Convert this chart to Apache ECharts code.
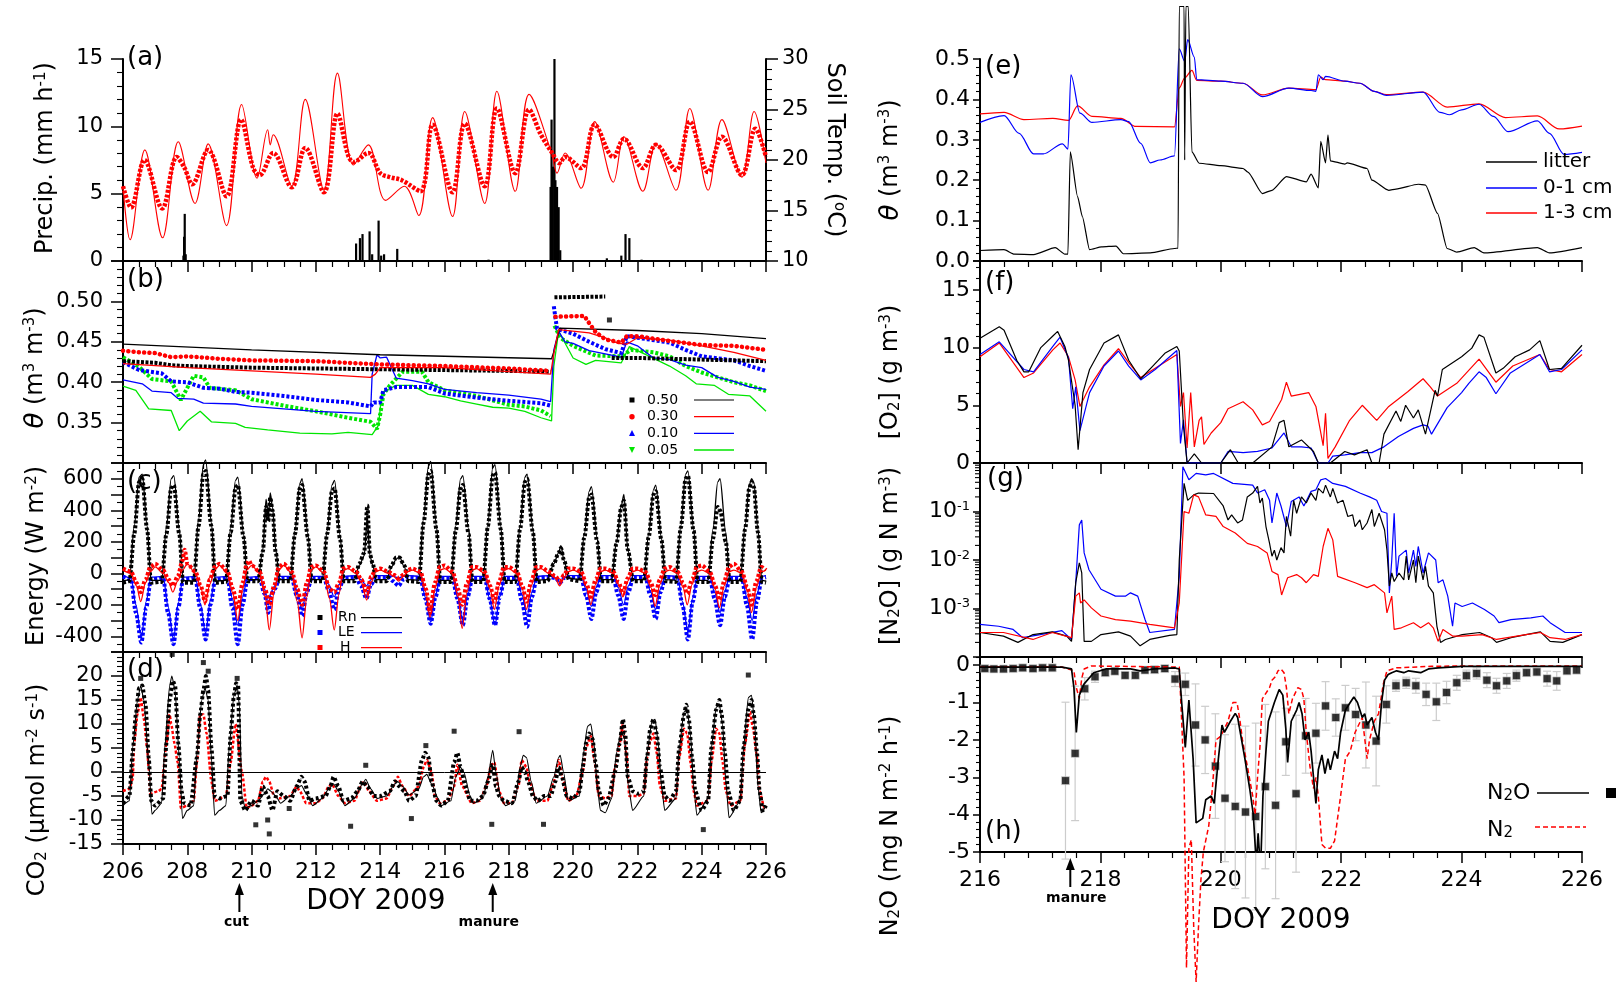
<!DOCTYPE html>
<html><head><meta charset="utf-8">
<script src="https://cdn.jsdelivr.net/npm/echarts@6/dist/echarts.min.js"></script>
<style>html,body{margin:0;padding:0;background:#fff}#c{width:1621px;height:1003px}</style>
</head><body><div id="c"></div>
<script>
// ---------------- DATA ----------------
// (a) precipitation (mm/h) and soil temperatures (C)
const precip = [[207.88,0.4],[207.9,1.8],[207.92,3.5],[207.95,0.5],[213.25,1.3],[213.37,1.7],[213.45,2.0],[213.67,2.2],[213.75,0.5],[213.95,3.0],[214.03,0.4],[214.12,0.5],[214.53,0.9],[217.37,0.1],[219.3,5.5],[219.33,10.5],[219.37,7.0],[219.42,15],[219.45,6.0],[219.5,5.5],[219.55,4.0],[219.6,0.8],[221.05,0.2],[221.5,0.4],[221.63,2.0],[221.75,1.7],[222.13,0.1]];
const tempSurface = [[206.0,17.4],[206.22,12.1],[206.68,21.0],[207.23,12.3],[207.72,21.8],[208.24,15.7],[208.65,21.6],[209.22,13.5],[209.69,25.5],[210.17,18.2],[210.5,23.0],[210.58,21.5],[210.67,22.5],[211.25,17.4],[211.67,26.0],[212.25,17.0],[212.67,28.6],[213.17,19.5],[213.63,21.5],[214.17,16.0],[214.75,17.4],[215.2,14.5],[215.63,24.2],[216.25,14.4],[216.63,24.8],[217.25,15.7],[217.63,26.8],[218.2,16.9],[218.63,26.5],[219.33,20.7],[219.5,18.7],[219.75,20.7],[220.25,17.2],[220.67,23.8],[221.25,17.8],[221.58,22.3],[222.17,16.9],[222.58,21.6],[223.2,17.0],[223.63,25.1],[224.2,17.0],[224.63,24.0],[225.25,18.3],[225.63,24.8],[226.0,19.7]];
const tempDeep = [[206.0,17.4],[206.25,15.3],[206.67,20.0],[207.22,15.2],[207.67,20.3],[207.9,19.3],[208.15,17.6],[208.65,21.0],[209.22,16.4],[209.67,24.0],[210.05,19.2],[210.25,18.5],[210.67,20.7],[211.25,17.3],[211.67,21.2],[212.25,16.8],[212.67,24.6],[213.0,20.5],[213.17,19.8],[213.63,20.7],[214.0,18.7],[214.3,18.3],[214.67,18.0],[215.25,16.9],[215.63,23.5],[216.25,16.8],[216.63,23.6],[217.25,17.4],[217.63,25.1],[218.2,18.7],[218.63,25.0],[219.0,22.5],[219.33,20.8],[219.58,19.7],[219.75,20.3],[220.25,19.2],[220.67,23.5],[221.25,20.3],[221.58,22.1],[222.17,19.2],[222.58,21.5],[223.2,19.0],[223.63,23.8],[224.2,18.8],[224.63,22.3],[225.25,18.5],[225.67,23.1],[226.0,20.3]];

// (b) soil water content at depths 0.50, 0.30, 0.10, 0.05 m (modelled lines / measured markers)
const th50Line = [[206,0.447],[210,0.440],[214,0.434],[219.33,0.429],[219.42,0.44],[219.58,0.467],[222,0.464],[224,0.460],[226,0.454]];
const th50Obs = [[206,0.426],[207,0.424],[207.5,0.421],[208,0.420],[210,0.418],[212,0.417],[214,0.416],[216,0.415],[218,0.414],[219.3,0.413],[219.35,null],[219.42,0.505],[221.0,0.506],[221.05,null],[221.2,0.43],[222,0.43],[224,0.428],[226,0.426]];
const th50Out = [[221.13,0.477]];
const th30Line = [[206,0.423],[208,0.418],[210,0.414],[212,0.41],[213.7,0.406],[213.85,0.41],[214.0,0.418],[216,0.418],[218,0.413],[219.3,0.41],[219.42,0.44],[219.55,0.465],[220.5,0.461],[221.0,0.455],[221.4,0.448],[221.67,0.447],[222.0,0.455],[223,0.452],[224,0.445],[225,0.437],[226,0.427]];
const th30Obs = [[206,0.439],[206.5,0.437],[207,0.436],[207.5,0.431],[208,0.432],[209,0.429],[210,0.427],[212,0.426],[214,0.422],[216,0.42],[218,0.417],[219.3,0.414],[219.35,null],[219.45,0.481],[220.35,0.482],[220.5,0.473],[220.7,0.462],[221.0,0.453],[221.5,0.449],[221.67,0.457],[222,0.457],[223,0.451],[224,0.446],[225,0.445],[226,0.440]];
const th10Line = [[206,0.403],[206.6,0.398],[206.9,0.389],[207.5,0.387],[207.7,0.38],[208.2,0.379],[208.5,0.374],[209.5,0.373],[210,0.37],[212,0.364],[213.7,0.361],[213.75,0.41],[213.9,0.434],[214.0,0.43],[214.2,0.431],[214.5,0.405],[215,0.402],[215.5,0.398],[216,0.391],[217,0.387],[218,0.384],[219,0.379],[219.3,0.376],[219.4,0.44],[219.55,0.463],[219.75,0.45],[220.0,0.448],[220.5,0.439],[221.5,0.431],[221.67,0.45],[222,0.445],[222.5,0.43],[223,0.428],[223.5,0.421],[224,0.418],[224.5,0.406],[225,0.401],[225.5,0.394],[226,0.391]];
const th10Obs = [[206,0.425],[206.5,0.415],[207.2,0.411],[207.5,0.401],[208,0.40],[208.5,0.393],[209,0.392],[209.5,0.388],[210,0.387],[211,0.383],[212,0.378],[213,0.375],[213.7,0.37],[213.8,0.375],[214,0.375],[214.1,0.39],[214.5,0.394],[215.5,0.394],[216,0.386],[217,0.381],[218,0.377],[219,0.374],[219.3,0.371],[219.35,null],[219.4,0.494],[219.5,0.466],[220,0.46],[220.5,0.45],[221,0.441],[221.5,0.436],[221.67,0.457],[222,0.455],[223,0.449],[223.5,0.44],[224,0.432],[225,0.427],[225.5,0.42],[226,0.414]];
const th05Line = [[206,0.395],[206.4,0.39],[206.8,0.367],[207.5,0.365],[207.75,0.34],[208.0,0.352],[208.4,0.364],[208.75,0.351],[209.5,0.349],[209.8,0.344],[210.5,0.341],[211.5,0.337],[212.5,0.336],[213,0.338],[213.75,0.335],[213.95,0.347],[214.05,0.387],[214.5,0.396],[215,0.396],[215.5,0.385],[216,0.382],[216.5,0.377],[217,0.373],[217.5,0.369],[218,0.368],[218.5,0.364],[219,0.356],[219.33,0.352],[219.4,0.42],[219.55,0.463],[220.0,0.43],[220.4,0.422],[220.7,0.427],[221.5,0.424],[221.75,0.444],[223,0.42],[223.5,0.408],[223.83,0.398],[224.4,0.396],[224.83,0.385],[225.5,0.383],[226,0.364]];
const th05Obs = [[206,0.431],[206.5,0.419],[206.9,0.404],[207.5,0.401],[207.8,0.378],[208.2,0.408],[208.5,0.406],[208.7,0.393],[209.5,0.39],[210,0.379],[211,0.371],[212,0.364],[213,0.356],[213.7,0.351],[213.9,0.342],[214.0,0.36],[214.1,0.385],[214.3,0.396],[214.7,0.413],[215.3,0.413],[215.5,0.40],[216,0.39],[217,0.383],[218,0.372],[218.5,0.37],[219,0.365],[219.3,0.358],[219.35,null],[219.42,0.47],[219.6,0.455],[220,0.445],[220.7,0.433],[221.5,0.432],[221.8,0.44],[222.5,0.437],[223,0.432],[223.5,0.42],[224,0.412],[225,0.40],[225.5,0.396],[226,0.389]];

// (c) energy fluxes W m-2 (flat lists: day, value, day, value ...)
const rnLineFlat = [206,-50,206.2,-40,206.35,300,206.5,610,206.6,630,206.75,300,206.87,-45,207.2,-45,207.35,290,207.5,600,207.58,620,207.75,280,207.87,-45,208.2,-50,208.35,340,208.5,690,208.57,720,208.75,320,208.87,-50,209.2,-45,209.35,290,209.5,590,209.57,610,209.75,250,209.87,-40,210.2,-40,210.35,150,210.45,470,210.52,350,210.58,510,210.65,420,210.75,150,210.87,-40,211.2,-40,211.35,270,211.5,570,211.57,600,211.75,250,211.87,-40,212.2,-40,212.35,270,212.5,560,212.58,590,212.75,240,212.87,-40,213.2,-40,213.35,50,213.5,110,213.6,350,213.68,110,213.77,50,213.87,-40,214.2,-40,214.35,40,214.5,90,214.6,105,214.75,40,214.87,-40,215.2,-45,215.35,350,215.5,680,215.57,710,215.75,300,215.87,-45,216.2,-45,216.35,300,216.5,600,216.57,620,216.75,280,216.87,-45,217.2,-45,217.35,320,217.5,670,217.57,690,217.75,300,217.87,-45,218.2,-45,218.35,300,218.5,610,218.57,630,218.75,280,218.87,-45,219.2,-40,219.4,60,219.55,130,219.62,175,219.72,80,219.87,-30,220.2,-40,220.35,250,220.5,520,220.57,550,220.75,220,220.87,-40,221.2,-40,221.35,200,221.5,430,221.58,500,221.7,150,221.87,-40,222.2,-40,222.35,250,222.5,530,222.57,560,222.75,220,222.87,-40,223.2,-45,223.35,300,223.5,630,223.57,650,223.75,280,223.87,-45,224.2,-45,224.35,280,224.5,580,224.57,600,224.75,260,224.87,-45,225.2,-45,225.35,300,225.48,560,225.55,600,225.62,580,225.75,280,225.87,-45,226,-50];
const rnObsFlat = [206,-60,206.2,-50,206.35,250,206.5,580,206.6,600,206.75,280,206.87,-60,207.2,-55,207.35,250,207.5,540,207.58,560,207.75,250,207.87,-60,208.2,-60,208.35,300,208.5,630,208.57,650,208.75,300,208.87,-60,209.2,-55,209.35,260,209.5,540,209.57,560,209.75,230,209.87,-50,210.2,-50,210.35,140,210.45,420,210.52,330,210.58,480,210.65,400,210.75,130,210.87,-50,211.2,-50,211.35,250,211.5,540,211.57,560,211.75,230,211.87,-50,212.2,-50,212.35,250,212.5,520,212.58,540,212.75,220,212.87,-50,213.2,-50,213.35,60,213.5,130,213.6,430,213.68,120,213.77,60,213.87,-50,214.2,-50,214.35,50,214.5,100,214.6,100,214.75,50,214.87,-50,215.2,-55,215.35,320,215.5,630,215.57,650,215.75,280,215.87,-55,216.2,-55,216.35,270,216.5,540,216.57,560,216.75,250,216.87,-55,217.2,-55,217.35,300,217.5,620,217.57,640,217.75,280,217.87,-55,218.2,-55,218.35,280,218.5,580,218.57,600,218.75,260,218.87,-55,219.2,-50,219.4,60,219.55,130,219.62,160,219.72,80,219.87,-40,220.2,-50,220.35,230,220.5,480,220.57,500,220.75,200,220.87,-50,221.2,-50,221.35,190,221.5,420,221.58,460,221.7,150,221.87,-50,222.2,-50,222.35,230,222.5,500,222.57,520,222.75,210,222.87,-50,223.2,-55,223.35,290,223.5,600,223.57,620,223.75,270,223.87,-55,224.2,-55,224.35,220,224.5,420,224.57,400,224.75,200,224.87,-55,225.2,-55,225.35,280,225.48,540,225.55,580,225.62,550,225.75,260,225.87,-55,226,-60];
const leLineFlat = [206,-15,206.25,-30,206.4,-200,206.57,-410,206.72,-180,206.87,-25,207.25,-20,207.4,-210,207.57,-420,207.72,-190,207.87,-25,208.25,-20,208.4,-190,208.57,-380,208.72,-170,208.87,-25,209.25,-20,209.4,-160,209.57,-330,209.72,-150,209.87,-25,210.25,-20,210.4,-100,210.52,-200,210.6,-120,210.72,-80,210.87,-20,211.25,-20,211.4,-110,211.57,-230,211.72,-100,211.87,-20,212.25,-20,212.4,-70,212.57,-150,212.72,-70,212.87,-20,213.25,-15,213.4,-40,213.57,-80,213.72,-40,213.87,-15,214.25,-15,214.4,-20,214.57,-30,214.72,-20,214.87,-15,215.25,-20,215.4,-150,215.57,-310,215.72,-140,215.87,-20,216.25,-20,216.4,-150,216.57,-300,216.72,-140,216.87,-20,217.25,-20,217.4,-160,217.57,-330,217.72,-150,217.87,-20,218.25,-20,218.4,-130,218.57,-270,218.72,-120,218.87,-20,219.25,-15,219.45,-30,219.6,-60,219.72,-30,219.87,-15,220.25,-15,220.4,-100,220.57,-210,220.72,-90,220.87,-15,221.25,-15,221.4,-90,221.57,-200,221.72,-80,221.87,-15,222.25,-15,222.4,-110,222.57,-230,222.72,-100,222.87,-15,223.25,-20,223.4,-180,223.57,-370,223.72,-160,223.87,-20,224.25,-20,224.4,-120,224.57,-250,224.72,-110,224.87,-20,225.25,-20,225.4,-150,225.57,-300,225.72,-130,225.87,-20,226,-15];
const leObsFlat = [206,-20,206.25,-40,206.4,-250,206.57,-440,206.72,-220,206.87,-40,207.25,-30,207.4,-250,207.57,-450,207.72,-220,207.87,-40,208.25,-30,208.4,-220,208.57,-420,208.72,-200,208.87,-40,209.25,-30,209.4,-220,209.57,-450,209.72,-200,209.87,-40,210.25,-30,210.4,-130,210.52,-250,210.6,-150,210.72,-100,210.87,-30,211.25,-30,211.4,-140,211.57,-270,211.72,-120,211.87,-30,212.25,-30,212.4,-110,212.57,-230,212.72,-100,212.87,-30,213.25,-25,213.4,-80,213.57,-160,213.72,-70,213.87,-25,214.25,-25,214.4,-50,214.57,-80,214.72,-40,214.87,-25,215.25,-30,215.4,-160,215.57,-320,215.72,-150,215.87,-30,216.25,-30,216.4,-160,216.57,-330,216.72,-150,216.87,-30,217.25,-30,217.4,-160,217.57,-330,217.72,-150,217.87,-30,218.25,-30,218.4,-170,218.57,-340,218.72,-150,218.87,-30,219.25,-25,219.45,-30,219.6,-60,219.72,-30,219.87,-25,220.25,-25,220.4,-140,220.57,-290,220.72,-120,220.87,-25,221.25,-25,221.4,-140,221.57,-290,221.72,-120,221.87,-25,222.25,-25,222.4,-140,222.57,-290,222.72,-120,222.87,-25,223.25,-30,223.4,-200,223.57,-420,223.72,-180,223.87,-30,224.25,-30,224.4,-160,224.57,-330,224.72,-150,224.87,-30,225.25,-30,225.4,-200,225.57,-420,225.72,-180,225.87,-30,226,-25];
const hLineFlat = [206,20,206.25,0,206.42,-80,206.55,-180,206.7,-60,206.85,10,207.0,40,207.25,0,207.42,-60,207.55,-120,207.7,-50,207.85,20,208.0,60,208.25,0,208.42,-90,208.55,-200,208.7,-70,208.85,20,209.0,50,209.25,0,209.42,-130,209.57,-300,209.72,-100,209.85,20,210.0,50,210.25,0,210.42,-150,210.55,-360,210.7,-120,210.85,20,211.0,50,211.25,0,211.42,-180,211.57,-410,211.72,-150,211.85,20,212.0,40,212.25,0,212.42,-160,212.57,-360,212.72,-130,212.85,20,213.0,30,213.25,0,213.42,-60,213.58,-170,213.72,-60,213.85,10,214.0,20,214.25,0,214.42,-20,214.58,-50,214.72,-20,214.85,10,215.0,20,215.25,0,215.42,-120,215.55,-280,215.7,-100,215.85,20,216.0,30,216.25,0,216.42,-150,216.55,-350,216.7,-120,216.85,20,217.0,30,217.25,0,217.42,-100,217.55,-230,217.7,-80,217.85,20,218.0,30,218.25,0,218.42,-100,218.55,-230,218.7,-80,218.85,20,219.0,30,219.25,0,219.45,-30,219.58,-80,219.72,-30,219.85,10,220.0,20,220.25,0,220.42,-90,220.55,-200,220.7,-70,220.85,10,221.0,20,221.25,0,221.42,-70,221.55,-150,221.7,-50,221.85,10,222.0,20,222.25,0,222.42,-90,222.55,-210,222.7,-70,222.85,10,223.0,20,223.25,0,223.42,-90,223.55,-200,223.7,-70,223.85,10,224.0,20,224.25,0,224.42,-100,224.55,-220,224.7,-80,224.85,10,225.0,20,225.25,0,225.42,-110,225.55,-250,225.7,-90,225.85,10,226,20];
const hObsFlat = [206,30,206.25,10,206.42,-60,206.55,-120,206.7,-40,206.85,40,207.0,60,207.25,20,207.42,-40,207.55,-80,207.7,-20,207.85,80,207.92,150,208.0,60,208.25,10,208.42,-80,208.55,-180,208.7,-40,208.85,40,209.0,60,209.25,10,209.42,-100,209.57,-230,209.72,-60,209.85,60,209.92,80,210.0,50,210.25,10,210.42,-100,210.55,-200,210.7,-80,210.85,40,211.0,60,211.25,10,211.42,-100,211.57,-200,211.72,-60,211.85,40,212.0,50,212.25,10,212.42,-100,212.57,-120,212.72,-60,212.85,30,213.0,40,213.25,10,213.42,-40,213.58,-130,213.72,-20,213.85,20,214.0,30,214.25,10,214.42,-10,214.58,-30,214.72,-10,214.85,20,215.0,30,215.25,10,215.42,-100,215.55,-250,215.7,-60,215.85,40,216.0,50,216.25,10,216.42,-100,216.55,-200,216.7,-60,216.85,40,217.0,40,217.25,10,217.42,-80,217.55,-180,217.7,-50,217.85,40,218.0,40,218.25,10,218.42,-80,218.55,-180,218.7,-50,218.85,40,219.0,40,219.25,10,219.45,-20,219.58,-50,219.72,-10,219.85,30,220.0,30,220.25,10,220.42,-70,220.55,-150,220.7,-40,220.85,30,221.0,30,221.25,10,221.42,-60,221.55,-130,221.7,-30,221.85,30,222.0,30,222.25,10,222.42,-60,222.55,-140,222.7,-40,222.85,30,223.0,40,223.25,10,223.42,-60,223.55,-130,223.7,-40,223.85,40,224.0,50,224.25,10,224.42,-80,224.55,-170,224.7,-50,224.85,40,225.0,60,225.25,10,225.42,-90,225.55,-200,225.7,-50,225.85,40,226,20];

// (d) CO2 flux
const co2LineFlat = [206.0,-7,206.2,-6,206.3,5,206.45,15,206.55,18,206.65,15,206.8,2,206.9,-8.8,207.0,-8,207.2,-6.5,207.3,5,207.45,18,207.52,20,207.62,17,207.75,3,207.85,-9.7,208.0,-8,208.2,-7,208.3,4,208.45,15,208.55,17.5,208.65,15,208.75,3,208.85,-9,209.0,-8,209.2,-7,209.3,5,209.45,16,209.55,18,209.62,14,209.7,-5,209.8,-7.5,210.0,-7,210.2,-6,210.4,-4.5,210.5,-3.5,210.6,-4,210.75,-5,210.9,-6.5,211.2,-5,211.4,-3.5,211.55,-2.8,211.7,-4.5,211.9,-7,212.2,-5.5,212.4,-3.5,212.55,-2.5,212.7,-4,212.9,-7,213.2,-5.5,213.45,-2.5,213.55,-1.5,213.7,-3.5,213.9,-5.5,214.2,-5,214.45,-2.5,214.55,-2,214.7,-3,214.9,-4.8,215.2,-3.5,215.35,-1,215.45,-0.5,215.6,-2.5,215.8,-5.5,215.9,-7,216.2,-6,216.35,-1,216.5,1,216.6,0,216.8,-5,216.9,-6.5,217.2,-5.5,217.35,-1,217.5,4.5,217.6,0,217.75,-5.5,217.9,-7,218.2,-6,218.35,1,218.45,3.5,218.55,3,218.7,-2,218.85,-6.5,219.2,-5,219.4,-1,219.55,3,219.6,3.5,219.7,0,219.85,-6,220.2,-5,220.3,3,220.45,9.5,220.55,10,220.65,6,220.75,-3,220.85,-8,221.0,-8.5,221.2,-5.5,221.35,4,221.5,8.5,221.6,7,221.72,-3,221.85,-8,222.2,-5,222.3,4,222.45,10.5,222.55,11,222.65,6,222.75,-3,222.85,-8,223.2,-5.5,223.3,5,223.45,12.5,223.55,13,223.65,8,223.75,-3,223.85,-9,224.2,-5.5,224.3,5,224.45,13.5,224.55,14,224.65,10,224.75,-2,224.85,-9.5,225.2,-6,225.3,5,225.45,15.5,225.55,16,225.65,10,225.75,-3,225.85,-8.5,226.0,-7];
const co2ObsFlat = [206.0,-6.5,206.2,-5,206.3,4,206.4,12,206.5,17.5,206.6,18,206.7,14,206.8,3,206.88,-6,207.0,-7,207.25,-5.5,207.35,6,207.45,15,207.55,19,207.62,18,207.72,6,207.82,-4,207.9,-6.5,208.1,-7,208.3,3,208.4,12,208.5,17,208.58,20,208.65,17,208.75,5,208.85,-5,209.0,-5.5,209.25,-5,209.35,8,209.45,16,209.52,18.5,209.58,18,209.65,-6,209.8,-8,210.0,-6,210.2,-7,210.35,-3,210.5,-5,210.65,-8,210.8,-4,211.0,-5,211.2,-6,211.4,-3,211.55,-1,211.65,-2,211.8,-6,212.0,-5.5,212.3,-5,212.45,-3,212.55,-1,212.7,-3,212.85,-6,213.1,-5.5,213.3,-4,213.45,-2,213.6,-3,213.8,-5,214.0,-5,214.3,-4,214.45,-2,214.6,-3,214.75,-4,214.9,-6,215.1,-5,215.3,2.5,215.4,4,215.5,3,215.6,-2,215.75,-6,215.9,-7,216.1,-6,216.3,2,216.4,4,216.5,1,216.65,-3,216.8,-6,217.0,-6,217.2,-5,217.35,-2,217.5,1.5,217.6,-3,217.7,-5,217.85,-6,218.1,-6.5,218.3,-2,218.4,1,218.5,0,218.6,-2,218.75,-5,218.9,-6,219.1,-5,219.3,-5,219.45,-2,219.55,1,219.65,-1,219.8,-5,220.0,-5.5,220.2,-4,220.3,1,220.4,6,220.5,8,220.6,7,220.7,2,220.8,-4,220.95,-7,221.1,-5.5,221.3,0,221.45,6,221.55,11,221.62,8,221.7,-1,221.85,-4,222.0,-4.5,222.2,-4,222.3,3,222.4,9,222.5,11,222.6,8,222.7,1,222.85,-5,223.0,-6,223.2,-4,223.3,5,223.45,12,223.52,14,223.6,11,223.7,3,223.8,-4,224.0,-8,224.2,-6,224.3,5,224.45,13,224.55,15,224.62,12,224.72,4,224.82,-4,225.0,-8,225.2,-6,225.3,5,225.45,13,225.55,15,225.62,12,225.72,4,225.8,-4,225.9,-8,226.0,-7];
const co2Outliers = [[207.53,24.5],[208.5,22.8],[208.65,21],[210.13,-11],[210.55,-12.9],[210.5,-10],[211.17,-7.6],[213.08,-11.3],[213.55,1.4],[214.97,-9.7],[215.42,5.5],[216.3,8.5],[217.47,-10.9],[218.32,8.4],[219.08,-10.9],[224.05,-12],[225.45,20.2],[209.55,19.5],[206.55,19.5]];
const co2RedFlat = [206.0,-4,206.2,-3.5,206.3,-1.5,206.35,6,206.45,12,206.55,15.5,206.65,11,206.75,5,206.8,0.5,206.85,-4.5,207.1,-4,207.2,-3.5,207.35,6,207.45,12,207.5,10,207.6,6,207.7,2,207.8,-7.5,208.0,-7,208.2,-6,208.3,2,208.4,12,208.5,12,208.6,8,208.75,-2,208.85,-6,209.2,-5,209.35,2,209.5,10,209.7,0,209.85,-7.5,210.0,-7,210.2,-6,210.35,-2,210.45,-1,210.55,-2,210.7,-5,210.85,-5.5,211.2,-5,211.4,-3,211.5,-4,211.7,-6.5,212.0,-6.5,212.2,-5.5,212.4,-3,212.5,-2.5,212.7,-5,212.9,-6.5,213.2,-6,213.4,-3,213.5,-2,213.65,-4,213.9,-6,214.2,-5.5,214.4,-3,214.55,-1,214.7,-3,214.9,-5,215.2,-3,215.35,1,215.45,2.5,215.6,0,215.7,-5,215.85,-6.5,216.1,-6,216.3,-3,216.4,1.5,216.55,-3,216.85,-6.5,217.1,-6,217.3,-3,217.45,1.5,217.55,2,217.7,-4,217.85,-6.5,218.1,-6.5,218.3,-3,218.4,2.5,218.55,1,218.65,-2,218.85,-6,219.2,-6,219.4,-2,219.55,2.5,219.7,-2,219.85,-6,220.1,-5,220.3,0,220.4,5,220.55,7.5,220.65,3,220.8,-5,221.0,-5.5,221.2,-5,221.3,1,221.45,6,221.55,10,221.65,4,221.75,-5,222.0,-5,222.2,-4.5,222.3,3,222.4,6.5,222.5,8,222.6,4,222.7,-3,222.85,-6,223.2,-5.5,223.3,3,223.45,9,223.55,8,223.65,2,223.75,-4,223.85,-7,224.2,-6,224.3,2,224.45,9,224.55,8,224.65,2,224.75,-4,224.9,-7,225.2,-6,225.35,6,225.5,12.5,225.6,9,225.7,4,225.8,-4,225.95,-7.5,226.0,-7];

// (e) water content litter / 0-1 cm / 1-3 cm
const eLitter = [[216.0,0.026],[216.4,0.028],[216.57,0.017],[216.89,0.016],[217.25,0.033],[217.41,0.017],[217.46,0.017],[217.5,0.27],[217.62,0.16],[217.7,0.11],[217.82,0.028],[218.02,0.035],[218.26,0.037],[218.38,0.018],[218.83,0.02],[219.23,0.031],[219.29,0.032],[219.31,0.63],[219.39,0.63],[219.4,0.25],[219.42,0.63],[219.46,0.63],[219.52,0.27],[219.64,0.242],[220.0,0.236],[220.37,0.229],[220.45,0.22],[220.69,0.167],[220.85,0.175],[221.09,0.209],[221.42,0.196],[221.5,0.215],[221.62,0.181],[221.66,0.296],[221.74,0.243],[221.78,0.312],[221.82,0.248],[222.06,0.24],[222.1,0.243],[222.43,0.229],[222.51,0.2],[222.79,0.175],[222.91,0.178],[223.28,0.19],[223.4,0.188],[223.6,0.118],[223.76,0.031],[223.92,0.022],[224.21,0.033],[224.37,0.02],[225.26,0.033],[225.46,0.02],[226.0,0.033]];
const e01 = [[216.0,0.343],[216.4,0.36],[216.65,0.316],[216.89,0.265],[217.05,0.265],[217.37,0.29],[217.46,0.277],[217.51,0.461],[217.66,0.366],[217.86,0.343],[218.34,0.35],[218.47,0.345],[218.67,0.291],[218.83,0.243],[218.99,0.25],[219.23,0.26],[219.31,0.525],[219.4,0.494],[219.45,0.548],[219.56,0.505],[219.6,0.449],[220.0,0.445],[220.37,0.44],[220.69,0.407],[221.13,0.428],[221.5,0.422],[221.58,0.42],[221.62,0.461],[221.7,0.449],[221.74,0.457],[222.06,0.445],[222.31,0.44],[222.55,0.42],[222.75,0.41],[223.36,0.418],[223.64,0.368],[223.8,0.362],[224.0,0.374],[224.29,0.388],[224.53,0.358],[224.77,0.32],[225.26,0.347],[225.46,0.316],[225.7,0.264],[226.0,0.269]];
const e13 = [[216.0,0.364],[216.4,0.368],[216.73,0.35],[217.21,0.353],[217.47,0.348],[217.62,0.384],[217.86,0.358],[218.34,0.353],[218.59,0.333],[219.23,0.332],[219.31,0.428],[219.4,0.453],[219.52,0.472],[219.6,0.447],[220.0,0.445],[220.37,0.44],[220.69,0.411],[221.13,0.428],[221.58,0.424],[221.66,0.455],[221.74,0.449],[222.06,0.445],[222.31,0.44],[222.55,0.42],[222.75,0.412],[223.36,0.418],[223.76,0.381],[224.29,0.389],[224.73,0.355],[225.26,0.359],[225.62,0.327],[226.0,0.334]];

// (f) O2 concentration
const fLitter = [[216.0,10.8],[216.32,11.8],[216.4,11.5],[216.61,8.9],[216.73,7.9],[216.81,7.9],[217.01,10.0],[217.21,11.0],[217.29,11.4],[217.41,10.1],[217.47,8.9],[217.58,5.0],[217.63,1.15],[217.71,6.1],[217.82,8.1],[218.06,10.4],[218.3,11.1],[218.47,8.9],[218.67,7.3],[218.87,8.4],[219.07,9.5],[219.27,10.1],[219.31,9.7],[219.38,3.2],[219.44,0],[219.56,0.8],[219.68,0],[220.0,0],[220.16,1.15],[220.29,0],[220.53,0],[220.85,1.4],[220.97,3.5],[221.05,3.7],[221.13,1.4],[221.34,2.0],[221.54,1.0],[221.62,0],[221.82,0],[222.06,1.0],[222.22,0.7],[222.43,1.15],[222.51,0],[222.63,0],[222.71,2.5],[222.91,4.5],[222.99,3.6],[223.07,5.0],[223.2,3.9],[223.28,4.6],[223.4,2.5],[223.56,6.3],[223.6,5.8],[223.68,8.1],[224.0,9.2],[224.17,9.95],[224.29,11.1],[224.37,10.9],[224.57,7.8],[224.69,8.2],[224.89,9.2],[225.13,9.8],[225.3,10.6],[225.46,8.1],[225.66,8.2],[226.0,10.2]];
const f01 = [[216.0,9.4],[216.32,10.5],[216.73,8.1],[216.89,7.9],[217.21,10.1],[217.33,10.9],[217.47,9.1],[217.54,4.7],[217.59,6.6],[217.66,2.8],[217.82,6.1],[218.06,8.4],[218.3,9.7],[218.47,8.4],[218.67,7.2],[218.91,8.1],[219.27,9.75],[219.33,1.7],[219.38,3.75],[219.44,0],[220.0,0],[220.12,1.0],[220.37,0.9],[220.61,1.0],[220.85,1.3],[221.05,2.6],[221.17,1.4],[221.34,1.4],[221.5,1.3],[221.62,0],[221.78,0],[221.86,0.6],[222.06,0.7],[222.31,0.9],[222.51,0.9],[222.71,1.4],[222.95,2.3],[223.2,3.0],[223.36,3.3],[223.44,3.2],[223.5,2.5],[223.76,4.8],[224.0,6.1],[224.12,6.9],[224.29,7.9],[224.41,7.4],[224.57,6.0],[224.81,7.8],[225.3,9.4],[225.46,7.9],[225.66,8.1],[226.0,9.8]];
const f13 = [[216.0,9.2],[216.32,10.4],[216.73,7.4],[216.89,7.8],[217.21,9.8],[217.33,10.4],[217.47,9.2],[217.58,7.2],[217.66,4.9],[217.82,6.6],[218.06,8.5],[218.3,9.9],[218.47,8.7],[218.67,7.4],[218.91,8.2],[219.27,9.4],[219.33,4.9],[219.38,6.1],[219.44,1.3],[219.5,6.1],[219.56,1.4],[219.64,3.7],[219.68,4.0],[219.72,1.6],[219.84,2.6],[220.0,3.5],[220.12,4.7],[220.37,5.3],[220.53,4.6],[220.69,3.3],[220.81,3.6],[221.01,5.5],[221.09,7.0],[221.17,5.8],[221.46,6.1],[221.58,4.9],[221.7,1.5],[221.74,4.3],[221.78,0.4],[221.9,1.4],[222.14,3.7],[222.35,5.0],[222.59,3.7],[222.79,4.9],[223.11,6.2],[223.36,7.3],[223.48,6.6],[223.6,5.8],[223.92,6.9],[224.29,9.0],[224.57,7.0],[224.85,8.4],[225.3,9.4],[225.46,8.1],[225.66,7.9],[226.0,9.4]];

// (g) N2O concentration (log scale)
const gLitter = [[216.0,3.2e-4],[216.39,2.7e-4],[216.63,2.0e-4],[216.88,2.9e-4],[217.2,3.3e-4],[217.44,2.7e-4],[217.52,2.1e-4],[217.59,3.4e-3],[217.65,8.7e-3],[217.69,5.4e-3],[217.73,2.1e-4],[217.85,2.1e-4],[218.01,2.9e-4],[218.3,3.3e-4],[218.5,2.7e-4],[218.66,1.7e-4],[218.82,2.3e-4],[219.15,2.8e-4],[219.27,2.9e-4],[219.31,1.0e-2],[219.39,0.38],[219.45,0.17],[219.55,0.22],[219.63,0.24],[219.88,0.235],[220.04,0.13],[220.12,0.067],[220.18,0.085],[220.28,0.058],[220.36,0.067],[220.44,0.2],[220.53,0.24],[220.61,0.33],[220.65,0.15],[220.69,0.19],[220.75,0.049],[220.81,0.022],[220.85,0.012],[220.89,0.016],[220.93,0.010],[221.0,0.018],[221.05,0.014],[221.09,0.079],[221.16,0.031],[221.21,0.17],[221.26,0.092],[221.34,0.2],[221.42,0.15],[221.5,0.24],[221.58,0.17],[221.62,0.30],[221.7,0.24],[221.74,0.35],[221.82,0.2],[221.86,0.30],[221.94,0.15],[222.03,0.17],[222.11,0.079],[222.19,0.085],[222.23,0.049],[222.31,0.067],[222.35,0.042],[222.43,0.058],[222.51,0.11],[222.55,0.049],[222.63,0.092],[222.72,0.042],[222.76,0.016],[222.8,0.0029],[222.84,0.0054],[222.88,0.0036],[222.96,0.0054],[223.04,0.0039],[223.08,0.012],[223.12,0.0039],[223.2,0.010],[223.24,0.0034],[223.28,0.012],[223.36,0.0039],[223.4,0.0074],[223.45,0.0029],[223.53,0.0021],[223.59,0.00043],[223.65,0.0002],[223.73,0.00023],[224.01,0.00029],[224.3,0.00032],[224.5,0.00025],[224.58,0.0002],[224.82,0.00025],[225.07,0.00029],[225.31,0.00033],[225.47,0.00021],[225.68,0.0002],[226.0,0.00029]];
const g01 = [[216.0,4.7e-4],[216.31,4.3e-4],[216.55,3.7e-4],[216.71,2.5e-4],[217.0,2.9e-4],[217.36,3.5e-4],[217.52,2.3e-4],[217.59,3.4e-3],[217.65,0.053],[217.69,0.067],[217.73,0.014],[217.81,0.0063],[218.01,0.0025],[218.25,0.0018],[218.42,0.0018],[218.5,0.0021],[218.62,0.0018],[218.74,6e-4],[218.82,3.2e-4],[219.23,3.7e-4],[219.31,0.0046],[219.37,0.84],[219.47,0.45],[219.59,0.61],[219.75,0.57],[219.88,0.61],[220.2,0.38],[220.53,0.35],[220.61,0.24],[220.73,0.28],[220.81,0.17],[220.85,0.058],[220.93,0.24],[221.0,0.13],[221.09,0.049],[221.17,0.16],[221.3,0.2],[221.38,0.13],[221.5,0.26],[221.58,0.28],[221.66,0.45],[221.74,0.48],[221.86,0.38],[222.07,0.33],[222.31,0.24],[222.47,0.2],[222.59,0.17],[222.67,0.1],[222.76,0.092],[222.8,0.0021],[222.84,0.01],[222.88,0.092],[222.92,0.0046],[222.96,0.012],[223.08,0.016],[223.12,0.0054],[223.2,0.016],[223.24,0.0074],[223.28,0.019],[223.36,0.0054],[223.45,0.014],[223.57,0.010],[223.61,0.0034],[223.69,0.0039],[223.77,0.0018],[223.85,0.00043],[223.89,0.0013],[224.01,0.0011],[224.18,0.0013],[224.38,0.00095],[224.54,0.0007],[224.62,0.00051],[224.82,0.00059],[225.15,0.00064],[225.35,0.0007],[225.47,0.00051],[225.72,0.00032],[226.0,0.00032]];
const g13 = [[216.0,3.2e-4],[216.39,3.2e-4],[216.88,2.3e-4],[217.2,3.2e-4],[217.52,2.5e-4],[217.59,0.0018],[217.65,0.0021],[217.67,0.0013],[217.73,0.0015],[217.85,0.00103],[218.01,0.0007],[218.25,0.00059],[218.5,0.00055],[218.82,0.00047],[219.23,0.0004],[219.31,0.0013],[219.39,0.1],[219.47,0.092],[219.55,0.22],[219.63,0.2],[219.75,0.085],[219.92,0.079],[220.04,0.049],[220.24,0.036],[220.44,0.022],[220.61,0.019],[220.77,0.014],[220.85,0.0058],[220.95,0.005],[221.01,0.0019],[221.11,0.0043],[221.26,0.005],[221.34,0.0043],[221.42,0.0034],[221.54,0.005],[221.62,0.0046],[221.7,0.019],[221.78,0.045],[221.86,0.026],[221.94,0.0046],[222.23,0.0034],[222.43,0.0027],[222.55,0.0031],[222.72,0.0021],[222.76,0.00081],[222.84,0.0018],[222.88,0.00037],[223.0,0.0004],[223.2,0.00051],[223.32,0.0004],[223.45,0.00051],[223.53,0.0004],[223.61,0.00021],[223.69,0.00037],[223.85,0.00027],[224.01,0.00027],[224.34,0.00029],[224.58,0.00023],[225.07,0.00029],[225.31,0.00032],[225.47,0.00025],[225.72,0.00023],[226.0,0.00029]];

// (h) N2O and N2 fluxes (model lines) and measured N2O (squares, +/- error)
const hN2O = [[216.0,-0.05],[217.36,-0.05],[217.52,-0.1],[217.56,-0.6],[217.6,-1.8],[217.65,-0.8],[217.73,-0.5],[217.89,-0.2],[218.09,-0.1],[218.5,-0.1],[218.66,-0.15],[218.9,-0.1],[219.23,-0.07],[219.31,-0.1],[219.35,-1.0],[219.41,-2.2],[219.47,-0.93],[219.54,-2.5],[219.59,-4.22],[219.7,-4.1],[219.75,-3.6],[219.84,-3.5],[219.89,-3.7],[219.96,-2.5],[220.02,-1.6],[220.06,-1.8],[220.16,-1.5],[220.24,-1.29],[220.28,-1.4],[220.4,-2.5],[220.48,-3.3],[220.54,-4.0],[220.59,-5.34],[220.62,-4.5],[220.66,-5.5],[220.7,-3.5],[220.75,-2.3],[220.79,-1.5],[220.89,-1.0],[220.97,-0.65],[221.03,-0.8],[221.08,-1.7],[221.11,-2.6],[221.17,-1.5],[221.26,-1.2],[221.3,-1.0],[221.35,-1.3],[221.4,-2.0],[221.46,-1.8],[221.5,-2.3],[221.54,-3.0],[221.58,-3.7],[221.62,-2.8],[221.68,-2.4],[221.73,-2.9],[221.78,-2.5],[221.82,-2.8],[221.89,-2.3],[221.94,-2.5],[221.99,-1.8],[222.07,-1.2],[222.15,-1.0],[222.21,-0.85],[222.27,-1.0],[222.35,-1.4],[222.39,-1.3],[222.43,-1.6],[222.51,-1.4],[222.57,-1.8],[222.62,-2.0],[222.67,-1.0],[222.72,-0.4],[222.78,-0.25],[222.84,-0.2],[222.92,-0.15],[223.04,-0.2],[223.12,-0.15],[223.32,-0.2],[223.45,-0.1],[223.61,-0.07],[224.01,-0.03],[226.0,-0.03]];
const hN2 = [[216.0,-0.05],[217.36,-0.05],[217.56,-0.15],[217.6,-0.6],[217.65,-0.89],[217.69,-0.35],[217.73,-0.1],[217.85,-0.02],[219.31,-0.05],[219.35,-1.5],[219.39,-3.0],[219.43,-8.1],[219.47,-4.89],[219.51,-4.67],[219.55,-7.0],[219.59,-8.48],[219.63,-6.98],[219.67,-5.74],[219.71,-5.0],[219.8,-4.3],[219.86,-3.3],[219.92,-2.0],[220.0,-1.9],[220.12,-1.5],[220.2,-1.0],[220.27,-1.0],[220.32,-1.5],[220.36,-2.0],[220.44,-2.7],[220.53,-3.5],[220.57,-4.0],[220.61,-3.0],[220.65,-2.2],[220.69,-0.9],[220.81,-0.6],[220.85,-0.4],[220.91,-0.3],[220.95,-0.15],[221.0,-0.1],[221.05,-0.2],[221.09,-0.6],[221.13,-1.3],[221.19,-0.9],[221.28,-0.6],[221.34,-0.65],[221.38,-0.9],[221.42,-1.8],[221.48,-2.7],[221.54,-3.3],[221.58,-3.0],[221.62,-3.5],[221.68,-4.8],[221.74,-4.9],[221.82,-4.9],[221.89,-4.7],[221.99,-3.5],[222.07,-2.5],[222.15,-2.3],[222.23,-1.8],[222.35,-1.4],[222.43,-2.5],[222.47,-2.0],[222.55,-1.5],[222.62,-1.3],[222.7,-0.5],[222.76,-0.15],[222.92,-0.07],[223.5,-0.03],[224.0,-0.02],[226.0,-0.02]];
const hObsDay = [216.08,216.23,216.39,216.55,216.71,216.88,217.04,217.2,217.42,217.58,217.74,217.91,218.08,218.24,218.41,218.58,218.74,218.9,219.07,219.24,219.41,219.58,219.74,219.91,220.07,220.24,220.41,220.58,220.74,220.91,221.08,221.25,221.41,221.58,221.74,221.91,222.07,222.24,222.41,222.58,222.75,222.91,223.08,223.24,223.41,223.58,223.75,223.92,224.08,224.25,224.42,224.58,224.75,224.91,225.08,225.25,225.42,225.58,225.75,225.91];
const hObsVal = [-0.09,-0.1,-0.1,-0.09,-0.07,-0.09,-0.07,-0.07,-3.09,-2.36,-0.63,-0.31,-0.2,-0.16,-0.27,-0.27,-0.13,-0.12,-0.09,-0.37,-0.51,-1.6,-2.0,-2.7,-3.56,-3.78,-3.93,-4.05,-3.25,-3.75,-2.05,-3.44,-1.89,-1.82,-1.09,-1.4,-1.14,-1.32,-1.6,-2.03,-1.05,-0.55,-0.47,-0.55,-0.78,-0.98,-0.73,-0.47,-0.28,-0.22,-0.4,-0.55,-0.42,-0.28,-0.2,-0.18,-0.36,-0.42,-0.15,-0.13];
const hObsErr = [0.05,0.05,0.05,0.05,0.05,0.05,0.05,0.05,2.1,1.8,0.3,0.15,0.08,0.08,0.08,0.08,0.08,0.08,0.08,0.2,0.3,1.1,0.9,1.4,1.7,2.2,2.3,2.5,2.2,2.5,0.9,2.1,1.0,0.8,0.65,0.5,0.6,0.7,1.15,1.2,0.5,0.15,0.15,0.2,0.3,0.5,0.3,0.2,0.15,0.15,0.2,0.2,0.2,0.15,0.1,0.1,0.2,0.25,0.1,0.1];

// tick label sets
const xTicksLeft = [206,208,210,212,214,216,218,220,222,224,226];
const xTicksRight = [216,218,220,222,224,226];
const logDecades = [-4,-3,-2,-1];

// ---------------- CHART ----------------
const FONT = 'DejaVu Sans, Liberation Sans, Arial, sans-serif';
const RED='#ff0000', BLUE='#0000ff', GREEN='#00e600', BLK='#000000';
const pairs = a => { const r=[]; for(let i=0;i<a.length;i+=2) r.push([a[i],a[i+1]]); return r; };

const grids = [
  {left:123, top:59,  width:643, height:202},
  {left:123, top:261, width:643, height:202},
  {left:123, top:463, width:643, height:189},
  {left:123, top:652, width:643, height:192},
  {left:980, top:59,  width:602, height:202},
  {left:980, top:261, width:602, height:202},
  {left:980, top:463, width:602, height:194},
  {left:980, top:657, width:602, height:195}
];

function xAx(gi, left, showLabel){
  const ticks = left ? xTicksLeft : xTicksRight;
  return {type:'value', gridIndex:gi, min:ticks[0], max:ticks[ticks.length-1], interval:2, position:'bottom',
    axisLine:{show:true,onZero:false,lineStyle:{color:BLK,width:2}},
    axisTick:{show:true,inside:false,length:11,lineStyle:{color:BLK,width:1.5}},
    minorTick:{show:true,splitNumber:left?4:5,length:6,lineStyle:{color:BLK,width:1.2}},
    axisLabel:{show:showLabel,fontSize:22,color:BLK,fontFamily:FONT,margin:17},
    splitLine:{show:false}, minorSplitLine:{show:false}};
}
function yAx(gi, o){
  const right = o.position==='right';
  const left = gi<4;
  return {type:o.type||'value', gridIndex:gi, position:o.position||'left', min:o.min, max:o.max, interval:o.interval, logBase:o.logBase,
    axisLine:{show:true,onZero:false,lineStyle:{color:BLK,width:2}},
    axisTick:{show:true,inside:false,length:left?12:7,lineStyle:{color:BLK,width:1.5}},
    minorTick:{show:o.type!=='log',splitNumber:o.minor||5,length:left?6:4,lineStyle:{color:BLK,width:1.1}},
    axisLabel:{fontSize:left?21:22,color:BLK,fontFamily:FONT,margin:left?(right?16:20):10,formatter:o.fmt,rich:o.rich},
    splitLine:{show:false}, minorSplitLine:{show:false}};
}

const xAxes = [xAx(0,true,false),xAx(1,true,false),xAx(2,true,false),xAx(3,true,true),
               xAx(4,false,false),xAx(5,false,false),xAx(6,false,false),xAx(7,false,true)];
const SUPR = {sup:{fontSize:13,verticalAlign:'top',fontFamily:FONT,color:BLK,padding:[0,0,6,0]}, b:{fontSize:22,fontFamily:FONT,color:BLK}};
const yAxes = [
  yAx(0,{min:0,max:15,interval:5,minor:5,fmt:v=>String(v)}),
  yAx(0,{position:'right',min:10,max:30,interval:5,minor:5,fmt:v=>String(v)}),
  yAx(1,{min:0.30,max:0.55,interval:0.05,minor:5,fmt:v=>(v<0.34||v>0.51)?'':v.toFixed(2)}),
  yAx(2,{min:-500,max:700,interval:100,minor:2,fmt:v=>(Math.round(v)%200===0&&v>=-400&&v<=600)?String(Math.round(v)):''}),
  yAx(3,{min:-15,max:25,interval:5,minor:5,fmt:v=>v>22?'':String(v)}),
  yAx(4,{min:0,max:0.5,interval:0.1,minor:5,fmt:v=>v.toFixed(1)}),
  yAx(5,{min:0,max:17.5,interval:5,minor:5,fmt:v=>v>16?'':String(v)}),
  yAx(6,{type:'log',logBase:10,min:1e-4,max:1,fmt:v=>{const e=Math.round(Math.log10(v));return (e<=-1&&e>=-3)?'{b|10}{sup|'+e+'}':'';},rich:SUPR}),
  yAx(7,{min:-5,max:0.22,interval:1,minor:5,fmt:v=>String(Math.round(v))})
];

function L(xi, yi, data, color, w, extra){
  return Object.assign({type:'line', xAxisIndex:xi, yAxisIndex:yi, data, showSymbol:false, symbol:'none',
    lineStyle:{color, width:w}, itemStyle:{color}, animation:false, silent:true, connectNulls:false}, extra||{});
}
function D(xi, yi, data, color, w, dash, extra){
  return L(xi, yi, data, color, w, Object.assign({lineStyle:{color, width:w, type:dash, cap:'butt'}}, extra||{}));
}
// minor tick positions for the log axis of panel (g): 2..9 x 10^e
const logMinor = [];
logDecades.forEach(e=>{ for(let m=2;m<=9;m++) logMinor.push([216, m*Math.pow(10,e)]); });

const series = [
  // (a)
  L(0,1,tempSurface,RED,1.1,{smooth:0.35}),
  D(0,1,tempDeep,RED,4.5,[3,1.6],{smooth:0.35}),
  {type:'bar', xAxisIndex:0, yAxisIndex:0, data:precip, barWidth:2.2, itemStyle:{color:BLK}, animation:false, silent:true},
  // (b)
  D(1,2,th05Obs,GREEN,4,[3,2]),
  L(1,2,th05Line,GREEN,1.3),
  D(1,2,th10Obs,BLUE,4,[3,2]),
  L(1,2,th10Line,BLUE,1.3),
  D(1,2,th50Obs,BLK,4,[3,1.5]),
  {type:'scatter', xAxisIndex:1, yAxisIndex:2, data:th50Out, symbol:'rect', symbolSize:5, itemStyle:{color:BLK}, animation:false, silent:true},
  L(1,2,th50Line,BLK,1.3),
  L(1,2,th30Obs,RED,4.5,{lineStyle:{color:RED,width:4.5,type:[0.1,5.2],cap:'round'}}),
  L(1,2,th30Line,RED,1.3),
  // (c)
  D(2,3,pairs(leObsFlat),BLUE,4,[3,2],{smooth:0.3,smoothMonotone:'x'}),
  L(2,3,pairs(leLineFlat),BLUE,1.3,{smooth:0.3,smoothMonotone:'x'}),
  D(2,3,pairs(rnObsFlat),BLK,4,[3,2],{smooth:0.3,smoothMonotone:'x',clip:false}),
  L(2,3,pairs(rnLineFlat),BLK,1.3,{smooth:0.3,smoothMonotone:'x',clip:false}),
  D(2,3,pairs(hObsFlat),RED,4,[3,2],{smooth:0.3,smoothMonotone:'x'}),
  L(2,3,pairs(hLineFlat),RED,1.3,{smooth:0.3,smoothMonotone:'x'}),
  // (d)
  D(3,4,pairs(co2RedFlat),RED,2.5,[3,2],{smooth:0.2,smoothMonotone:'x'}),
  D(3,4,pairs(co2ObsFlat),BLK,4,[3,2.5],{smooth:0.2,smoothMonotone:'x',clip:false}),
  {type:'scatter', xAxisIndex:3, yAxisIndex:4, data:co2Outliers, symbol:'rect', symbolSize:5, itemStyle:{color:BLK}, animation:false, silent:true, clip:false},
  L(3,4,pairs(co2LineFlat),BLK,1.1,{smooth:0.2,smoothMonotone:'x',
    markLine:{silent:true,symbol:'none',label:{show:false},animation:false,lineStyle:{color:BLK,width:1,type:'solid'},data:[{yAxis:0}]}}),
  // (e)
  L(4,5,e13,RED,1.2,{clip:false,smooth:0.3,smoothMonotone:'x'}),
  L(4,5,e01,BLUE,1.2,{clip:false,smooth:0.3,smoothMonotone:'x'}),
  L(4,5,eLitter,BLK,1.2,{clip:false,smooth:0.2,smoothMonotone:'x'}),
  // (f)
  L(5,6,f13,RED,1.2),
  L(5,6,f01,BLUE,1.2),
  L(5,6,fLitter,BLK,1.2),
  // (g)
  {type:'custom', xAxisIndex:6, yAxisIndex:7, clip:false, animation:false, silent:true, data:logMinor, encode:{x:0,y:1},
    renderItem:(p,api)=>{ const c=api.coord([api.value(0),api.value(1)]);
      return {type:'line',shape:{x1:c[0]-5,y1:c[1],x2:c[0],y2:c[1]},style:{stroke:BLK,lineWidth:1.1}}; }},
  L(6,7,g01,BLUE,1.2,{clip:false}),
  L(6,7,gLitter,BLK,1.2),
  L(6,7,g13,RED,1.2),
  // (h)
  {type:'custom', xAxisIndex:7, yAxisIndex:8, clip:false, animation:false, silent:true,
    data: hObsDay.map((d,i)=>[d, hObsVal[i]-hObsErr[i], hObsVal[i]+hObsErr[i]]),
    encode:{x:0,y:[1,2]},
    renderItem:(p,api)=>{
      const x=api.value(0), a=api.coord([x,api.value(2)]), b=api.coord([x,api.value(1)]);
      const st={stroke:'#cccccc',lineWidth:1.2};
      return {type:'group',children:[
        {type:'line',shape:{x1:a[0],y1:a[1],x2:b[0],y2:b[1]},style:st},
        {type:'line',shape:{x1:a[0]-4,y1:a[1],x2:a[0]+4,y2:a[1]},style:st},
        {type:'line',shape:{x1:b[0]-4,y1:b[1],x2:b[0]+4,y2:b[1]},style:st}]};
    }},
  L(7,8,hN2,RED,1.5,{lineStyle:{color:RED,width:1.5,type:[5,3]},clip:false}),
  L(7,8,hN2O,BLK,1.7),
  {type:'scatter', xAxisIndex:7, yAxisIndex:8, data:hObsDay.map((d,i)=>[d,hObsVal[i]]), symbol:'rect', symbolSize:8,
    itemStyle:{color:'#000',borderColor:'#ddd',borderWidth:0.8}, animation:false, silent:true, clip:false}
];

const chart = echarts.init(document.getElementById('c'), null, {renderer:'canvas'});
chart.setOption({backgroundColor:'#fff', animation:false, grid:grids, xAxis:xAxes, yAxis:yAxes, series});

// ---------------- annotations (titles, labels, legends, arrows) ----------------
const RICH = {
  t:{fontSize:24,fontFamily:FONT,fill:BLK,color:BLK},
  it:{fontSize:26,fontStyle:'italic',fontFamily:FONT,color:BLK},
  sup:{fontSize:15,verticalAlign:'top',fontFamily:FONT,color:BLK},
  sub:{fontSize:15,verticalAlign:'bottom',fontFamily:FONT,color:BLK}
};
function vtext(x,y,text,rot,size){
  return {type:'text', x, y, rotation:rot, silent:true, z:100,
    style:{text, rich:RICH, fontSize:size||24, fontFamily:FONT, fill:BLK, align:'center', verticalAlign:'middle'}};
}
function txt(x,y,text,size,opt){
  return {type:'text', x, y, silent:true, z:100,
    style:Object.assign({text, rich:RICH, fontSize:size, fontFamily:FONT, fill:BLK, align:'left', verticalAlign:'middle'}, opt||{})};
}
function seg(x1,y1,x2,y2,color,w,dash){
  return {type:'line', silent:true, z:100, shape:{x1,y1,x2,y2}, style:{stroke:color,lineWidth:w,lineDash:dash||null}};
}
function arrow(x,yTop,yBot){
  return [seg(x,yTop+8,x,yBot,BLK,2),
    {type:'polygon', silent:true, z:100, shape:{points:[[x,yTop],[x-4.5,yTop+12],[x+4.5,yTop+12]]}, style:{fill:BLK}}];
}
const P = Math.PI/2;
const xCut = chart.convertToPixel({xAxisIndex:3}, 209.62);
const xManL = chart.convertToPixel({xAxisIndex:3}, 217.5);
const xManR = chart.convertToPixel({xAxisIndex:7}, 217.5);

const els = [
  // y axis titles
  vtext(46,158,'Precip. (mm h{sup|-1})',P),
  vtext(834,150,'Soil Temp. ({sup|o}C)',-P),
  vtext(36,368,'{it|θ} (m{sup|3} m{sup|-3})',P),
  vtext(37,556,'Energy (W m{sup|-2})',P),
  vtext(38,790,'CO{sub|2} (µmol m{sup|-2} s{sup|-1})',P),
  vtext(891,160,'{it|θ} (m{sup|3} m{sup|-3})',P),
  vtext(891,372,'[O{sub|2}] (g m{sup|-3})',P),
  vtext(891,556,'[N{sub|2}O] (g N m{sup|-3})',P),
  vtext(891,826,'N{sub|2}O (mg N m{sup|-2} h{sup|-1})',P),
  // panel letters
  txt(127,58,'(a)',26), txt(127,280,'(b)',26), txt(127,482,'(c)',26), txt(127,670,'(d)',26),
  txt(985,67,'(e)',26), txt(985,283,'(f)',26), txt(987,479,'(g)',26), txt(985,832,'(h)',26),
  // x titles
  txt(376,902,'DOY 2009',28,{align:'center'}),
  txt(1281,921,'DOY 2009',28,{align:'center'}),
  txt(xCut-3,922,'cut',14,{align:'center',fontWeight:'bold'}),
  txt(xManL-4,922,'manure',14,{align:'center',fontWeight:'bold'}),
  txt(xManR+6,898,'manure',14,{align:'center',fontWeight:'bold'}),
  ...arrow(xCut,883,912), ...arrow(xManL,883,912), ...arrow(xManR,858,887),
  // legend (b)
  {type:'rect',silent:true,z:100,shape:{x:629.5,y:397.5,width:5,height:5},style:{fill:BLK}},
  txt(647,400,'0.50',14), seg(694,400,734,400,'#555',1.5),
  {type:'circle',silent:true,z:100,shape:{cx:632,cy:416.7,r:2.7},style:{fill:RED}},
  txt(647,416.7,'0.30',14), seg(694,416.7,734,416.7,RED,1.3),
  {type:'polygon',silent:true,z:100,shape:{points:[[632,430],[629,436],[635,436]]},style:{fill:BLUE}},
  txt(647,433.3,'0.10',14), seg(694,433.3,734,433.3,BLUE,1.3),
  {type:'polygon',silent:true,z:100,shape:{points:[[629,447],[635,447],[632,453]]},style:{fill:GREEN}},
  txt(647,450,'0.05',14), seg(694,450,734,450,GREEN,1.3),
  // legend (c)
  {type:'rect',silent:true,z:100,shape:{x:317.5,y:615,width:5,height:5},style:{fill:BLK}},
  txt(338,617.7,'Rn',14), seg(361,617.7,402,617.7,BLK,1.3),
  {type:'rect',silent:true,z:100,shape:{x:317.5,y:630,width:5,height:5},style:{fill:BLUE}},
  txt(338,632.7,'LE',14), seg(361,632.7,402,632.7,BLUE,1.3),
  {type:'rect',silent:true,z:100,shape:{x:317.5,y:645,width:5,height:5},style:{fill:RED}},
  txt(340,647.7,'H',14), seg(361,647.7,402,647.7,RED,1.3),
  // legend (e)
  seg(1486,162,1537,162,BLK,1.3), txt(1543,162,'litter',20),
  seg(1486,188,1537,188,BLUE,1.3), txt(1543,188,'0-1 cm',20),
  seg(1486,213,1537,213,RED,1.3), txt(1543,213,'1-3 cm',20),
  // legend (h)
  txt(1487,793,'N{sub|2}O',22), seg(1537,793,1589,793,BLK,1.7),
  {type:'rect',silent:true,z:100,shape:{x:1606,y:788,width:10,height:10},style:{fill:'#000'}},
  txt(1487,830,'N{sub|2}',22), seg(1535,827,1586,827,RED,1.5,[5,3])
];
chart.setOption({graphic:{elements:els}});
</script></body></html>
